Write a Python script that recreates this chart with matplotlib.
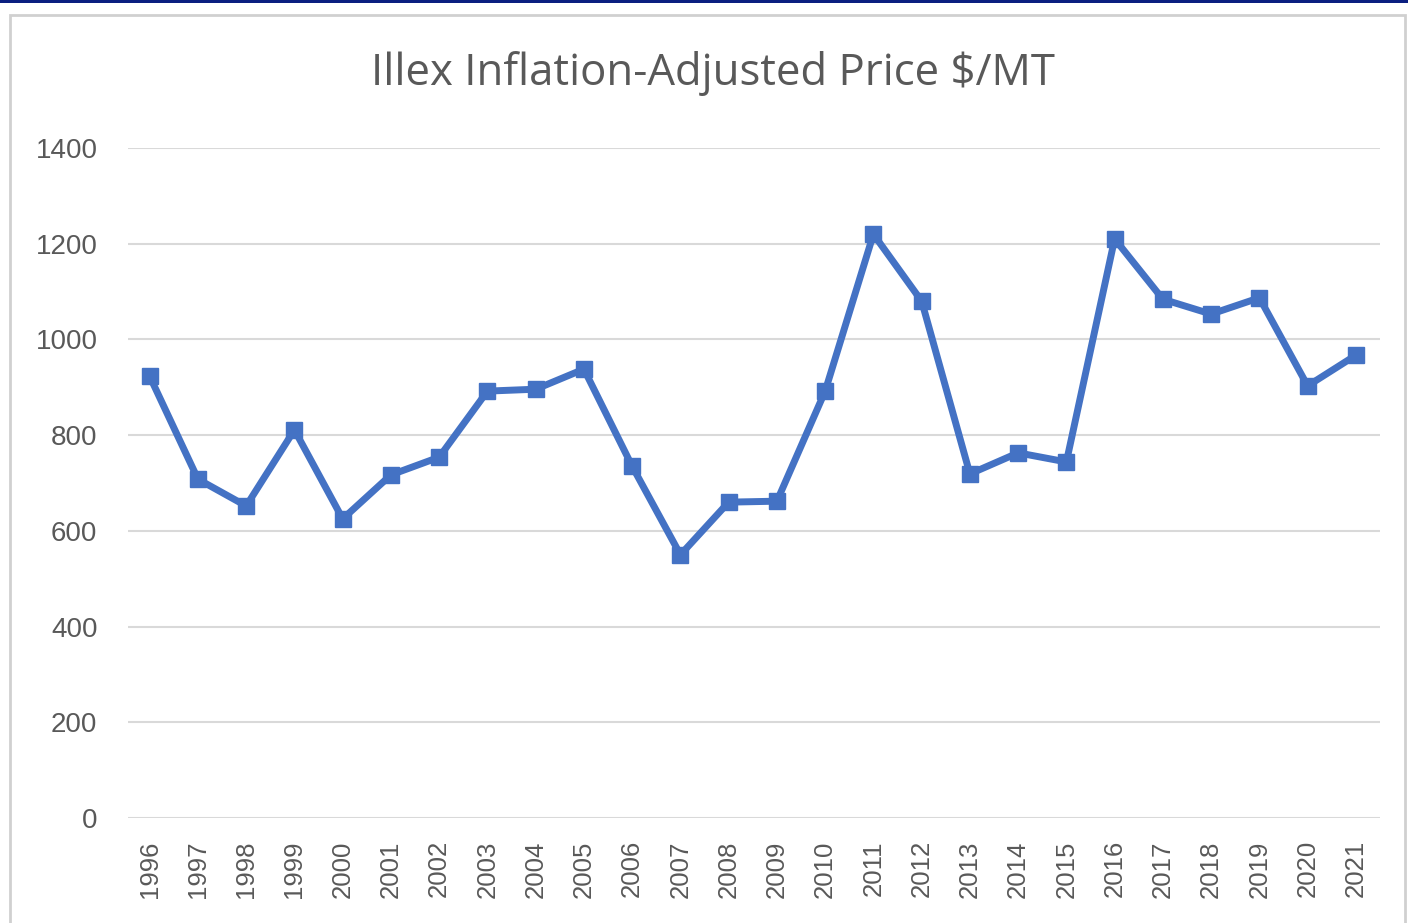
import matplotlib
matplotlib.use('Agg')
import matplotlib.pyplot as plt
from matplotlib.patches import Rectangle

years = [str(y) for y in range(1996, 2022)]
prices = [923, 708, 652, 811, 625, 717, 754, 892, 896, 938,
          735, 550, 660, 662, 892, 1220, 1080, 719, 763, 744,
          1210, 1084, 1053, 1087, 903, 967]
y_ticks = [0, 200, 400, 600, 800, 1000, 1200, 1400]

line_color = '#4472C4'
text_color = '#595959'
grid_color = '#D9D9D9'

fig = plt.figure(figsize=(14.08, 9.23), dpi=100)
fig.patch.set_facecolor('white')

# outer chart frame and top navy strip
fig.patches.append(Rectangle((10 / 1408, -0.01), 1395 / 1408, (923 - 15) / 923 + 0.01,
                             transform=fig.transFigure, fill=False,
                             edgecolor='#D0D0D0', linewidth=2))
fig.patches.append(Rectangle((0, 1 - 3 / 923), 1, 3 / 923, transform=fig.transFigure,
                             facecolor='#0B1F80', edgecolor='none'))

ax = fig.add_axes([128 / 1408, (923 - 818) / 923, (1380 - 128) / 1408, (818 - 148) / 923])
x = list(range(len(years)))
ax.plot(x, prices, color=line_color, linewidth=5, marker='s', markersize=11,
        markerfacecolor=line_color, markeredgecolor=line_color, zorder=3)

ax.set_xlim(-0.45, len(years) - 0.5)
ax.set_ylim(0, 1400)
ax.set_yticks(y_ticks)
ax.set_xticks(x)
ax.set_xticklabels(years, rotation=90, fontsize=18.5, color=text_color, family='Liberation Sans')
for lbl in ax.get_yticklabels():
  lbl.set_fontsize(20)
  lbl.set_color(text_color)
  lbl.set_family('Liberation Sans')
ax.tick_params(axis='both', length=0)
ax.tick_params(axis='y', pad=22)
ax.tick_params(axis='x', pad=16)
ax.grid(axis='y', color=grid_color, linewidth=1.5)
ax.set_axisbelow(True)
for s in ax.spines.values():
  s.set_visible(False)

fig.text(713 / 1408, 1 - 73 / 923, 'Illex Inflation-Adjusted Price $/MT', ha='center', va='center',
         fontsize=31.5, color=text_color, family='Open Sans')

fig.savefig('out.png', dpi=100)
